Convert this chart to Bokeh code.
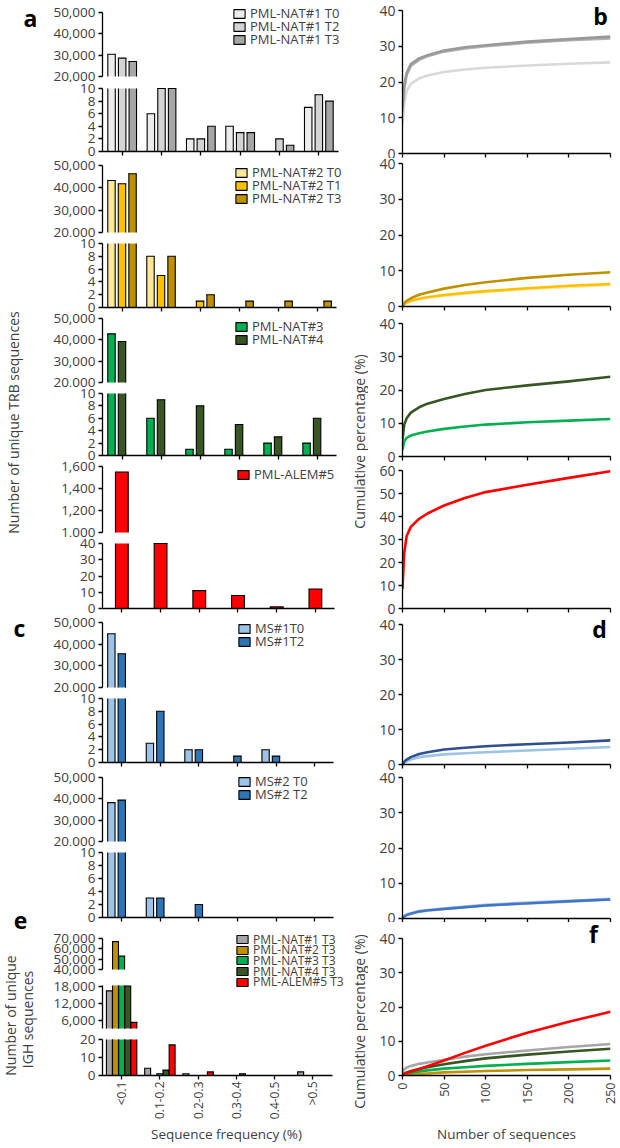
import math
from bokeh.plotting import figure
from bokeh.models import (ColumnDataSource, Range1d, FixedTicker, NumeralTickFormatter,
                          CustomJSTickFormatter, Legend, LegendItem, Label)
from bokeh.layouts import row, column
from bokeh.core.properties import value
from bokeh.embed import file_html
from bokeh.resources import INLINE

# ---------------- data ----------------
freq_bins = ["<0.1", "0.1-0.2", "0.2-0.3", "0.3-0.4", "0.4-0.5", ">0.5"]

nat1_labels = ["PML-NAT#1 T0", "PML-NAT#1 T2", "PML-NAT#1 T3"]
nat1_t0 = [30400, 6, 2, 4, 0, 7]
nat1_t2 = [28600, 10, 2, 3, 2, 9]
nat1_t3 = [27000, 10, 4, 3, 1, 8]

nat2_labels = ["PML-NAT#2 T0", "PML-NAT#2 T1", "PML-NAT#2 T3"]
nat2_t0 = [43300, 8, 0, 0, 0, 0]
nat2_t1 = [41800, 5, 1, 0, 0, 0]
nat2_t3 = [46300, 8, 2, 1, 1, 1]

nat34_labels = ["PML-NAT#3", "PML-NAT#4"]
nat3 = [42800, 6, 1, 1, 2, 2]
nat4 = [39200, 9, 8, 5, 3, 6]

alem_labels = ["PML-ALEM#5"]
alem5 = [1550, 40, 11, 8, 1, 12]

ms1_labels = ["MS#1T0", "MS#1T2"]
ms1_t0 = [44800, 3, 2, 0, 2, 0]
ms1_t2 = [35600, 8, 2, 1, 1, 0]

ms2_labels = ["MS#2 T0", "MS#2 T2"]
ms2_t0 = [38200, 3, 0, 0, 0, 0]
ms2_t2 = [39400, 3, 2, 0, 0, 0]

igh_labels = ["PML-NAT#1 T3", "PML-NAT#2 T3", "PML-NAT#3 T3", "PML-NAT#4 T3", "PML-ALEM#5 T3"]
igh_nat1 = [16550, 4, 1, 0, 0, 2]
igh_nat2 = [67000, 0, 0, 0, 0, 0]
igh_nat3 = [52900, 1, 0, 0, 0, 0]
igh_nat4 = [18300, 3, 0, 1, 0, 0]
igh_alem5 = [5200, 17, 2, 0, 0, 0]

# cumulative percentage curves (x = number of sequences)
seq_n = [0, 2, 5, 10, 20, 30, 50, 75, 100, 150, 200, 250]
cum_nat1_t0 = [8, 14, 17.5, 19.5, 21.0, 21.8, 22.8, 23.5, 24.0, 24.6, 25.1, 25.5]
cum_nat1_t2 = [12, 18, 22, 24.5, 26.2, 27.2, 28.5, 29.4, 30.0, 31.0, 31.7, 32.2]
cum_nat1_t3 = [13, 19, 22.5, 25, 26.6, 27.5, 28.8, 29.7, 30.3, 31.3, 32.0, 32.7]
cum_nat2_t0 = [0, 0.6, 1.0, 1.5, 2.1, 2.5, 3.0, 3.6, 4.1, 4.9, 5.5, 6.0]
cum_nat2_t1 = [0, 0.7, 1.1, 1.6, 2.2, 2.6, 3.2, 3.8, 4.3, 5.1, 5.8, 6.3]
cum_nat2_t3 = [0, 1.0, 1.6, 2.3, 3.3, 3.9, 5.0, 6.0, 6.8, 8.0, 8.9, 9.6]
cum_nat3 = [2, 4.5, 5.6, 6.3, 7.0, 7.5, 8.3, 9.0, 9.6, 10.3, 10.8, 11.3]
cum_nat4 = [5, 9.5, 11.5, 13.2, 14.8, 15.9, 17.3, 18.8, 20.0, 21.4, 22.6, 24.0]
cum_alem5 = [8.5, 24, 31.5, 35.5, 39, 41.3, 44.8, 48, 50.6, 53.8, 56.8, 59.7]
cum_ms1_t0 = [0, 0.5, 0.9, 1.4, 2.1, 2.4, 2.9, 3.2, 3.5, 4.0, 4.5, 5.0]
cum_ms1_t2 = [0, 0.8, 1.4, 2.1, 3.0, 3.5, 4.3, 4.8, 5.2, 5.8, 6.3, 6.9]
cum_ms2_t0 = [0, 0.6, 1.0, 1.4, 2.0, 2.3, 2.8, 3.3, 3.8, 4.4, 4.9, 5.5]
cum_ms2_t2 = [0, 0.6, 1.0, 1.4, 2.0, 2.3, 2.7, 3.2, 3.7, 4.3, 4.9, 5.4]
cum_igh_nat1 = [1.0, 1.8, 2.3, 2.8, 3.4, 3.8, 4.6, 5.5, 6.2, 7.3, 8.3, 9.2]
cum_igh_nat2 = [0, 0.1, 0.2, 0.3, 0.5, 0.6, 0.9, 1.1, 1.3, 1.6, 1.8, 2.0]
cum_igh_nat3 = [0.2, 0.4, 0.6, 0.8, 1.2, 1.5, 2.0, 2.4, 2.8, 3.4, 3.9, 4.4]
cum_igh_nat4 = [0.3, 0.6, 0.9, 1.3, 1.9, 2.4, 3.3, 4.2, 5.0, 6.1, 7.0, 7.8]
cum_igh_alem5 = [0.3, 0.5, 0.7, 1.1, 1.9, 2.7, 4.4, 6.6, 8.7, 12.5, 15.7, 18.6]

# ---------------- styles / layout ----------------
FONT = "Open Sans"
TXT = "#404040"
GREY0, GREY2, GREY3 = "#ececec", "#d4d4d4", "#a6a6a6"
YEL0, YEL1, YEL3 = "#ffe699", "#ffc000", "#bf9000"
GRN, DKGRN, RED = "#00b050", "#375623", "#ff0000"
LBLUE, MBLUE = "#9dc3e6", "#2e75b6"

TOP, BOT = 0, 1146
LX0, LX1 = 40, 350
MX0, MX1 = 350, 368
RX0, RX1 = 368, 618
RF_L, RF_R = 402, 610
CAT_PX = 236 / 6.0
LEG_H = 24
NAN = float("nan")


def style_axis(ax, size="13.5px"):
    ax.axis_line_color = "black"
    ax.axis_line_width = 1.3
    ax.major_tick_line_color = "black"
    ax.major_tick_line_width = 1.3
    ax.major_tick_in = 0
    ax.major_tick_out = 4
    ax.minor_tick_line_color = None
    ax.major_label_text_font = FONT
    ax.major_label_text_font_size = size
    ax.major_label_text_color = TXT
    ax.major_label_standoff = 3
    ax.axis_label_text_font = FONT
    ax.axis_label_text_font_size = "13.5px"
    ax.axis_label_text_font_style = "normal"
    ax.axis_label_text_color = TXT


def ticks_only(ax, positions):
    # tick marks without labels (drawn as minor ticks)
    ax.ticker = FixedTicker(ticks=[], minor_ticks=positions)
    ax.minor_tick_line_color = "black"
    ax.minor_tick_line_width = 1.3
    ax.minor_tick_in = 0
    ax.minor_tick_out = 4
    ax.major_label_standoff = 0


def y_range_for(lo, hi, sec_top, sec_bot, fr_top, fr_bot):
    upp = (hi - lo) / float(sec_bot - sec_top)
    return Range1d(lo - (fr_bot - sec_bot) * upp, hi + (sec_top - fr_top) * upp)


def bar_fig(fig_top, fig_bot, sec_top, sec_bot, fr_left, lo, hi, yticks, xaxis=None):
    fr_bot = sec_bot if xaxis else fig_bot
    p = figure(width=LX1 - LX0, height=fig_bot - fig_top,
               x_range=Range1d(0, (LX1 - fr_left) / CAT_PX),
               y_range=y_range_for(lo, hi, sec_top, sec_bot, fig_top, fr_bot),
               output_backend="svg", toolbar_location=None,
               x_axis_location="below" if xaxis else None,
               min_border_left=fr_left - LX0, min_border_right=0,
               min_border_top=0, min_border_bottom=fig_bot - fr_bot)
    p.outline_line_color = None
    p.grid.visible = False
    ya = p.yaxis[0]
    style_axis(ya)
    ya.ticker = FixedTicker(ticks=yticks)
    ya.formatter = NumeralTickFormatter(format="0,0")
    ya.bounds = (lo, hi)
    centers = [i + 0.5 for i in range(len(freq_bins))]
    if xaxis:
        xa = p.xaxis[0]
        style_axis(xa)
        xa.bounds = (0, len(freq_bins))
        if xaxis == "hidden":
            ticks_only(xa, centers)
        else:
            xa.ticker = FixedTicker(ticks=centers)
            xa.formatter = CustomJSTickFormatter(args=dict(cats=freq_bins),
                                                 code="return cats[Math.floor(tick)]")
            xa.major_label_text_font_size = "12px"
            xa.major_label_orientation = math.pi / 2
            xa.major_label_standoff = 2
            xa.axis_label = "Sequence frequency (%)"
            xa.axis_label_standoff = 3
    return p


def draw_section(p, series, colors, offsets, width, lo, hi):
    legend_rends = []
    for s, c, off in zip(series, colors, offsets):
        xs, bots, tops = [], [], []
        tx0, tx1, ty = [], [], []
        for i, v in enumerate(s):
            if lo > 0 and v <= lo:
                continue
            xc = i + 0.5 + off
            b, t = max(lo, 0), min(v, hi)
            xs.append(xc)
            bots.append(b)
            tops.append(t)
            if v <= hi:
                tx0.append(xc - width / 2)
                tx1.append(xc + width / 2)
                ty.append(t)
        src = ColumnDataSource(dict(x=xs, bottom=bots, top=tops))
        p.vbar(x="x", bottom="bottom", top="top", width=width, source=src,
               fill_color=c, line_color=None)
        sx = [x - width / 2 for x in xs] + [x + width / 2 for x in xs]
        p.segment(x0=sx, y0=bots + bots, x1=sx, y1=tops + tops,
                  line_color="black", line_width=1.1)
        p.segment(x0=tx0, y0=ty, x1=tx1, y1=ty, line_color="black", line_width=1.1,
                  line_cap="square")
        # legend swatch renderer (nothing drawn in the plot)
        legend_rends.append(p.vbar(x=[NAN], top=[NAN], width=width, fill_color=c,
                                   line_color="black", line_width=1.1))
    return legend_rends


def add_legend_rows(p, rends, labels, fr_left, fr_bot, box_left, centers, size="13px", gh=11):
    for r, lab, cy in zip(rends, labels, centers):
        leg = Legend(items=[LegendItem(label=value(lab), renderers=[r])],
                     location=(box_left - fr_left, fr_bot - cy - LEG_H / 2.0),
                     glyph_width=14, glyph_height=gh, label_height=LEG_H, label_standoff=4,
                     padding=0, margin=0, spacing=0, border_line_alpha=0,
                     background_fill_alpha=0, label_text_font=FONT,
                     label_text_font_size=size, label_text_color=TXT)
        p.add_layout(leg)


def two_part_panel(figU, secU, figL, secL, fr_left, rngU, tU, rngL, tL,
                   series, colors, offsets, width, labels, legend_centers):
    pu = bar_fig(figU[0], figU[1], secU[0], secU[1], fr_left, rngU[0], rngU[1], tU)
    pl = bar_fig(figL[0], figL[1], secL[0], secL[1], fr_left, rngL[0], rngL[1], tL, xaxis="hidden")
    ru = draw_section(pu, series, colors, offsets, width, rngU[0], rngU[1])
    draw_section(pl, series, colors, offsets, width, rngL[0], rngL[1])
    add_legend_rows(pu, ru, labels, fr_left, figU[1], 232, legend_centers)
    return [pu, pl]


OFF3 = [-0.27, 0.0, 0.27]
OFF2 = [-0.27, 0.0]
W3 = 0.19
up_ticks = [20000, 30000, 40000, 50000]
lo_ticks = [0, 2, 4, 6, 8, 10]

left = []
left += two_part_panel((0, 82), (12, 76), (82, 158), (88, 151), 102, (20000, 50000), up_ticks,
                       (0, 10), lo_ticks, [nat1_t0, nat1_t2, nat1_t3], [GREY0, GREY2, GREY3],
                       OFF3, W3, nat1_labels, [13, 26, 39])
left += two_part_panel((158, 237), (165, 232), (237, 313), (243, 307), 100, (20000, 50000), up_ticks,
                       (0, 10), lo_ticks, [nat2_t0, nat2_t1, nat2_t3], [YEL0, YEL1, YEL3],
                       OFF3, W3, nat2_labels, [172, 185, 198])
left += two_part_panel((313, 387), (318, 382), (387, 461), (393, 455), 100, (20000, 50000), up_ticks,
                       (0, 10), lo_ticks, [nat3, nat4], [GRN, DKGRN],
                       OFF2, W3, nat34_labels, [326, 339])
left += two_part_panel((461, 537), (466, 532), (537, 615), (543, 608), 98, (1000, 1600),
                       [1000, 1200, 1400, 1600], (0, 40), [0, 10, 20, 30, 40], [alem5], [RED],
                       [0.0], 0.33, alem_labels, [474])
left += two_part_panel((615, 692), (622, 687), (692, 769), (698, 762), 97, (20000, 50000), up_ticks,
                       (0, 10), lo_ticks, [ms1_t0, ms1_t2], [LBLUE, MBLUE],
                       OFF2, W3, ms1_labels, [628, 641])
left += two_part_panel((769, 846), (777, 841), (846, 927), (852, 917), 97, (20000, 50000), up_ticks,
                       (0, 10), lo_ticks, [ms2_t0, ms2_t2], [LBLUE, MBLUE],
                       OFF2, W3, ms2_labels, [781, 794])

# panel e (three-part broken axis)
igh_series = [igh_nat1, igh_nat2, igh_nat3, igh_nat4, igh_alem5]
igh_colors = [GREY3, YEL3, GRN, DKGRN, RED]
OFF5 = [-0.32, -0.16, 0.0, 0.16, 0.32]
W5 = 0.155
E_LEFT = 95
E_SPLIT = 977
peu = bar_fig(927, E_SPLIT, 938, 969, E_LEFT, 40000, 70000, [40000, 50000, 60000, 70000])
pem = bar_fig(E_SPLIT, 1033, 985, 1028, E_LEFT, 3000, 18500, [6000, 12000, 18000])
pel = bar_fig(1033, BOT, 1039, 1075, E_LEFT, 0, 20, [0, 10, 20], xaxis="labels")
reu = draw_section(peu, igh_series, igh_colors, OFF5, W5, 40000, 70000)
rem = draw_section(pem, igh_series, igh_colors, OFF5, W5, 3000, 18500)
draw_section(pel, igh_series, igh_colors, OFF5, W5, 0, 20)
e_centers = [939, 949.7, 960.4, 971.1, 981.8]
add_legend_rows(peu, reu[:4], igh_labels[:4], E_LEFT, E_SPLIT, 228, e_centers[:4], size="12px", gh=10)
add_legend_rows(pem, rem[4:], igh_labels[4:], E_LEFT, 1033, 228, e_centers[4:], size="12px", gh=10)
left += [peu, pem, pel]


# ---------------- right: cumulative curves ----------------
def curve_fig(fig_top, fig_bot, sec_top, sec_bot, ymax, labels=False):
    p = figure(width=RX1 - RX0, height=fig_bot - fig_top,
               x_range=Range1d(0, 250),
               y_range=y_range_for(0, ymax, sec_top, sec_bot, fig_top, sec_bot),
               output_backend="svg", toolbar_location=None,
               min_border_left=RF_L - RX0, min_border_right=RX1 - RF_R,
               min_border_top=0, min_border_bottom=fig_bot - sec_bot)
    p.outline_line_color = None
    p.grid.visible = False
    xa, ya = p.xaxis[0], p.yaxis[0]
    style_axis(xa, size="13px")
    style_axis(ya, size="14px")
    ya.ticker = FixedTicker(ticks=list(range(0, ymax + 1, 10)))
    ya.bounds = (0, ymax)
    xt = [0, 50, 100, 150, 200, 250]
    if labels:
        xa.ticker = FixedTicker(ticks=xt)
        xa.major_label_orientation = math.pi / 2
        xa.major_label_text_font_size = "12.5px"
        xa.axis_label = "Number of sequences"
        xa.axis_label_standoff = 18
    else:
        ticks_only(xa, xt)
    return p


def add_curves(p, series, colors, width=2.6):
    for s, c in zip(series, colors):
        p.line(x=seq_n, y=s, line_color=c, line_width=width, line_join="round")


def letter(p, txt, img_x, img_y, sec_top, sec_bot, ymax):
    dx = (img_x - RF_L) / float(RF_R - RF_L) * 250
    dy = (sec_bot - img_y) / float(sec_bot - sec_top) * ymax
    p.add_layout(Label(x=dx, y=dy, text=txt, text_font=FONT, text_font_size="23px",
                       text_font_style="bold", text_color="black",
                       text_align="center", text_baseline="middle"))


right = []
p = curve_fig(0, 158, 10, 153, 40)
add_curves(p, [cum_nat1_t0, cum_nat1_t2, cum_nat1_t3], ["#d9d9d9", "#b0b0b0", "#999999"])
letter(p, "b", 600, 15, 10, 153, 40)
right.append(p)

p = curve_fig(158, 314, 163, 306, 40)
add_curves(p, [cum_nat2_t0, cum_nat2_t1, cum_nat2_t3], [YEL0, YEL1, YEL3])
right.append(p)

p = curve_fig(314, 463, 323, 456, 40)
add_curves(p, [cum_nat3, cum_nat4], [GRN, DKGRN])
right.append(p)

p = curve_fig(463, 615, 470, 608, 60)
add_curves(p, [cum_alem5], [RED])
right.append(p)

p = curve_fig(615, 770, 624, 764, 40)
add_curves(p, [cum_ms1_t0, cum_ms1_t2], [LBLUE, "#2f4f8f"])
letter(p, "d", 599, 628, 624, 764, 40)
right.append(p)

p = curve_fig(770, 922, 777, 918, 40)
add_curves(p, [cum_ms2_t0], [LBLUE], width=3.4)
add_curves(p, [cum_ms2_t2], ["#4472c4"], width=2.4)
right.append(p)

p = curve_fig(922, BOT, 938, 1075, 40, labels=True)
add_curves(p, [cum_igh_nat2, cum_igh_nat3, cum_igh_nat4, cum_igh_nat1, cum_igh_alem5],
           [YEL3, GRN, DKGRN, "#a6a6a6", RED])
letter(p, "f", 593, 933, 938, 1075, 40)
right.append(p)


# ---------------- label strips ----------------
def label_fig(x0, x1):
    q = figure(width=x1 - x0, height=BOT - TOP, x_range=Range1d(x0, x1), y_range=Range1d(BOT, TOP),
               output_backend="svg", toolbar_location=None,
               x_axis_location=None, y_axis_location=None, min_border=0)
    q.outline_line_color = None
    q.grid.visible = False
    return q


def txt(q, s, x, y, size="14px", bold=False, angle=0.0, color=TXT):
    q.add_layout(Label(x=x, y=y, text=s, text_font=FONT, text_font_size=size,
                       text_font_style="bold" if bold else "normal", text_color=color,
                       angle=angle, text_align="center", text_baseline="middle"))


lq = label_fig(0, LX0)
txt(lq, "a", 30, 17, size="23px", bold=True, color="black")
txt(lq, "c", 19, 627, size="23px", bold=True, color="black")
txt(lq, "e", 20, 920, size="23px", bold=True, color="black")
txt(lq, "Number of unique TRB sequences", 13, 422, angle=math.pi / 2)
txt(lq, "Number of unique", 10, 1015, angle=math.pi / 2)
txt(lq, "IGH sequences", 27, 1019, angle=math.pi / 2)

mq = label_fig(MX0, MX1)
txt(mq, "Cumulative percentage (%)", 359, 441, angle=math.pi / 2)
txt(mq, "Cumulative percentage (%)", 359, 1021, angle=math.pi / 2)

layout = row(lq, column(*left, spacing=0), mq, column(*right, spacing=0), spacing=0)

open("out.html", "w").write(file_html(layout, INLINE))
